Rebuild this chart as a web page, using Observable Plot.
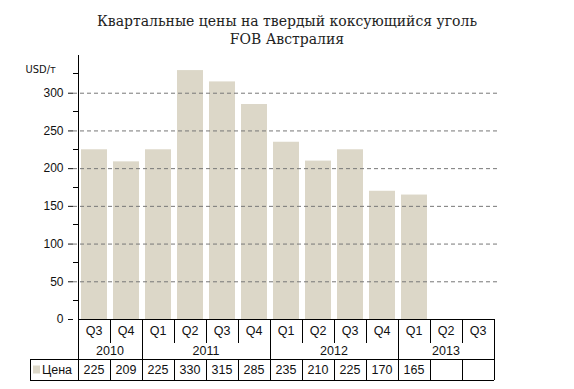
<!DOCTYPE html>
<html>
<head>
<meta charset="utf-8">
<script src="https://cdn.jsdelivr.net/npm/d3@7"></script>
<script src="https://cdn.jsdelivr.net/npm/@observablehq/plot@0.6"></script>
<style>
  html, body { margin: 0; padding: 0; background: #fff; }
  #title { height: 52px; box-sizing: border-box; padding-top: 12px; text-align: center;
           font-family: "DejaVu Serif", serif; font-size: 14px; line-height: 18px; color: #222; }
  svg { display: block; }
</style>
</head>
<body>
<div id="title">Квартальные цены на твердый коксующийся уголь<br>FOB Австралия</div>
<div id="chart"></div>
<script>
const quarters = ["Q3","Q4","Q1","Q2","Q3","Q4","Q1","Q2","Q3","Q4","Q1","Q2","Q3"];
const years    = ["2010","2010","2011","2011","2011","2011","2012","2012","2012","2012","2013","2013","2013"];
const prices   = [225, 209, 225, 330, 315, 285, 235, 210, 225, 170, 165, null, null];
const seriesName = "Цена";
const unitLabel = "USD/т";
const majorTicks = [0, 50, 100, 150, 200, 250, 300];
const minorTicks = [25, 75, 125, 175, 225, 275, 325];
const gridTicks = [50, 100, 150, 200, 250, 300];

const data = quarters.map((q, i) => ({key: years[i] + "-" + q, q, year: years[i], price: prices[i]}));
const keys = data.map(d => d.key);

const barColor = "#dcd7c8";
const font = "Liberation Sans, Arial, sans-serif";

function tableMark(index, scales, values, dims) {
  const x = scales.x, y = scales.y;
  const step = x.step(), bw = x.bandwidth();
  const left = k => x(k) + bw / 2 - step / 2;
  const right = k => x(k) + bw / 2 + step / 2;
  const y0 = dims.height - dims.marginBottom;   // x axis line
  const yQ = y0 + 24;     // bottom of quarter row
  const yY = y0 + 40;     // bottom of year row
  const yD = y0 + 61;     // bottom of data row
  const xl = left(keys[0]);
  const xr = right(keys[keys.length - 1]);
  const legendLeft = xl - 48;
  const g = d3.create("svg:g")
    .attr("font-family", font).attr("font-size", 12.5).attr("fill", "#111");
  const line = (x1, y1, x2, y2) => g.append("line")
    .attr("x1", x1).attr("y1", y1).attr("x2", x2).attr("y2", y2)
    .attr("stroke", "#000").attr("stroke-width", 1).attr("shape-rendering", "crispEdges");
  // minor ticks on y axis
  minorTicks.forEach(t => line(xl - 5, y(t), xl, y(t)));
  // x axis line
  line(xl, y0, xr, y0);
  // y axis line through table
  line(xl, dims.marginTop, xl, yD);
  // horizontal table lines
  line(legendLeft, yY, xr, yY);
  line(legendLeft, yD, xr, yD);
  line(legendLeft, yY, legendLeft, yD);
  line(xr, y0, xr, yD);
  data.forEach((d, i) => {
    if (i > 0) {
      const bx = left(d.key);
      const yearStart = d.year !== data[i - 1].year;
      if (yearStart) line(bx, y0, bx, yD);
      else { line(bx, y0, bx, yQ); line(bx, yY, bx, yD); }
    }
    const cx = x(d.key) + bw / 2;
    g.append("text").attr("x", cx).attr("y", (y0 + yQ) / 2).attr("dy", "0.35em")
      .attr("text-anchor", "middle").text(d.q);
    if (d.price != null)
      g.append("text").attr("x", cx).attr("y", (yY + yD) / 2).attr("dy", "0.35em")
        .attr("text-anchor", "middle").text(d.price);
  });
  // year labels
  const uniqueYears = [...new Set(years)];
  uniqueYears.forEach(yr => {
    const ks = data.filter(d => d.year === yr).map(d => d.key);
    const cx = (left(ks[0]) + right(ks[ks.length - 1])) / 2;
    g.append("text").attr("x", cx).attr("y", (yQ + yY) / 2).attr("dy", "0.35em")
      .attr("text-anchor", "middle").text(yr);
  });
  // legend cell
  g.append("rect").attr("x", legendLeft + 3).attr("y", (yY + yD) / 2 - 4)
    .attr("width", 7).attr("height", 8).attr("fill", barColor);
  g.append("text").attr("x", legendLeft + 12).attr("y", (yY + yD) / 2).attr("dy", "0.35em")
    .attr("text-anchor", "start").text(seriesName);
  return g.node();
}

const chart = Plot.plot({
  width: 574,
  height: 337,
  marginTop: 3,
  marginBottom: 70,
  marginLeft: 73,
  marginRight: 75,
  style: {fontFamily: font, fontSize: "12px", color: "#111", background: "#fff"},
  x: {domain: keys, padding: 0.2, axis: null},
  y: {domain: [0, 350], ticks: majorTicks, tickSize: 5, tickPadding: 5, label: null, axis: "left"},
  marks: [
    Plot.barY(data.filter(d => d.price != null), {x: "key", y: "price", fill: barColor}),
    Plot.ruleY(gridTicks, {stroke: "#777", strokeDasharray: "4,3", strokeWidth: 1}),
    Plot.text([unitLabel], {frameAnchor: "top-left", dx: -48, dy: 10, textAnchor: "start", fontSize: 11, fontFamily: "DejaVu Sans Condensed, DejaVu Sans, sans-serif"}),
    tableMark
  ]
});
document.getElementById("chart").appendChild(chart);
</script>
</body>
</html>
